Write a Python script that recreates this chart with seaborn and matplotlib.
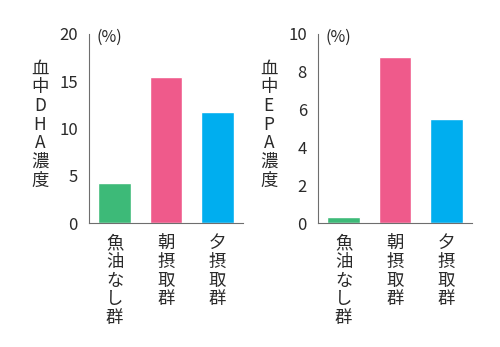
import matplotlib
matplotlib.use("Agg")
import matplotlib.pyplot as plt
import seaborn as sns
import pandas as pd

categories = ["魚油なし群", "朝摂取群", "夕摂取群"]
dha_values = [4.2, 15.5, 11.7]
epa_values = [0.3, 8.8, 5.5]
colors = ["#3dba78", "#ef5a8b", "#00aeef"]
dha_ticks = [0, 5, 10, 15, 20]
epa_ticks = [0, 2, 4, 6, 8, 10]

sns.set_style("white")
plt.rcParams["font.family"] = ["Noto Sans CJK JP", "DejaVu Sans"]

fig = plt.figure(figsize=(5.0, 3.47), dpi=100)
W, H = 500, 347

line_col = "#6e6e6e"
text_col = "#2a2a2a"


def make_panel(left_px, values, ticks, ylabel):
    ax = fig.add_axes([left_px / W, (H - 223) / H, 154 / W, 189 / H])
    df = pd.DataFrame({"cat": categories, "val": values})
    sns.barplot(data=df, x="cat", y="val", hue="cat", palette=colors,
                legend=False, width=0.63, saturation=1, ax=ax)
    ax.set_xlim(-0.5, 2.5)
    ax.set_ylim(0, ticks[-1])
    ax.set_yticks(ticks)
    ax.set_yticklabels([str(t) for t in ticks], fontsize=12, color=text_col)
    ax.set_xticks([0, 1, 2])
    ax.set_xticklabels(["\n".join(c) for c in categories], fontsize=12.5,
                       color=text_col, linespacing=1.05, va="top")
    ax.set_xticks([-0.5, 0.5, 1.5, 2.5], minor=True)
    ax.tick_params(axis="x", which="major", length=0, pad=8)
    ax.tick_params(axis="x", which="minor", length=7, width=0.8,
                   color=line_col, direction="out")
    ax.tick_params(axis="y", length=6.5, width=0.8, color=line_col,
                   direction="out", pad=1.5)
    ax.set_xlabel("")
    ax.set_ylabel("")
    for s in ["top", "right"]:
        ax.spines[s].set_visible(False)
    for s in ["left", "bottom"]:
        ax.spines[s].set_color(line_col)
        ax.spines[s].set_linewidth(0.8)
    ax.text(0.05, 0.984, "(%)", transform=ax.transAxes, fontsize=11.5,
            color=text_col, ha="left", va="center")
    ax.text(-0.32, 0.52, "\n".join(ylabel), transform=ax.transAxes,
            fontsize=12.5, color=text_col, ha="center", va="center",
            linespacing=1.05)
    return ax


make_panel(89, dha_values, dha_ticks, "血中DHA濃度")
make_panel(318, epa_values, epa_ticks, "血中EPA濃度")

fig.savefig("out.png", dpi=100)
